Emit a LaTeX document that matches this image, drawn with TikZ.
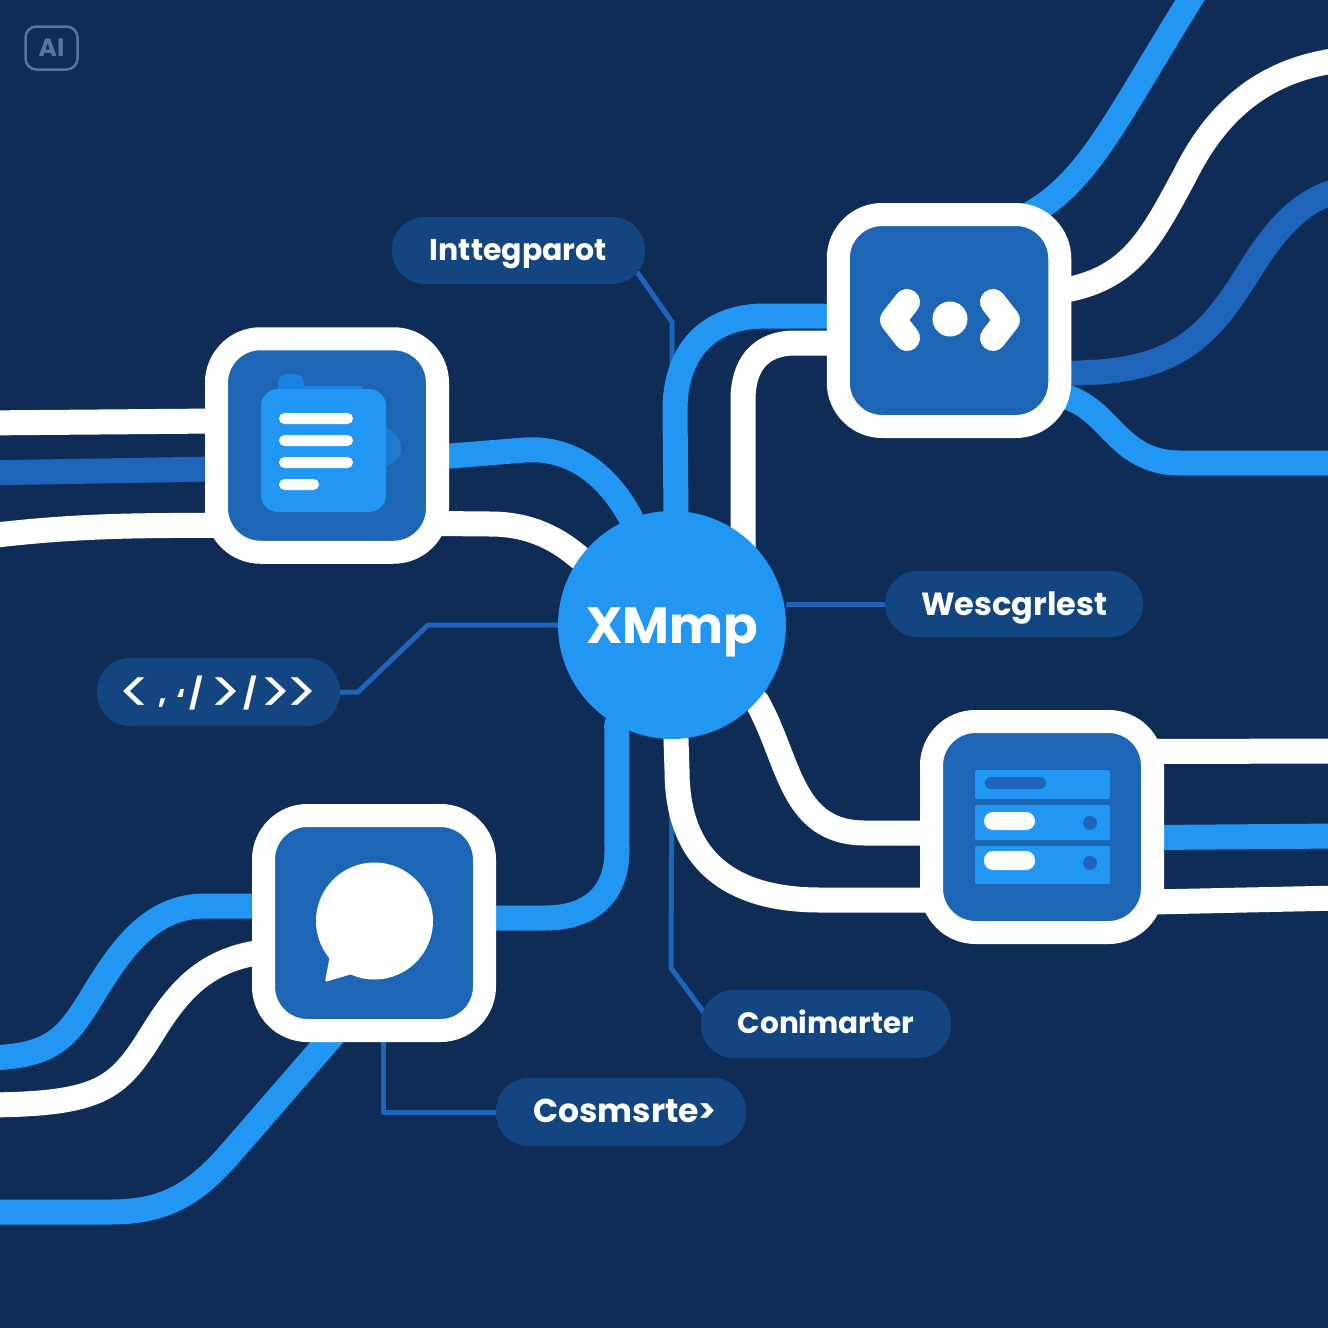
\documentclass[tikz,border=0pt]{standalone}
\usepackage{fontspec}
\setmainfont{Poppins}
\definecolor{bgnavy}{HTML}{0F2C57}
\definecolor{lightblue}{HTML}{2196F3}
\definecolor{midblue}{HTML}{1D64BA}
\definecolor{innerblue}{HTML}{1C66B5}
\definecolor{pillblue}{HTML}{134680}
\definecolor{tabblue}{HTML}{1A82E2}
\definecolor{bumpblue}{HTML}{1F79D0}
\definecolor{badge}{HTML}{55779F}
\pgfdeclarelayer{back}
\pgfsetlayers{back,main}
\newcommand{\pilltext}[3]{\fontsize{#1}{#1}\selectfont\raisebox{-#2pt}[0pt][0pt]{#3}}
\newcommand{\tagang}[1]{{\mdseries\fontsize{60}{60}\selectfont\raisebox{-5pt}{#1}}}
\newcommand{\tagsmall}[2]{{\fontsize{30}{30}\selectfont\raisebox{#1pt}{#2}}}
\tikzset{
  box/.style={rectangle,rounded corners=44pt,draw=white,line width=23pt,fill=innerblue,inner sep=0pt,outer sep=0pt},
  pill/.style={rectangle,rounded corners=33pt,fill=pillblue,inner sep=0pt,outer sep=0pt,text=white,font=\bfseries},
  whitewire/.style={draw=white,line width=25pt,line cap=round,line join=round},
  bluewire/.style={draw=lightblue,line width=25pt,line cap=round,line join=round},
  midwire/.style={draw=midblue,line width=25pt,line cap=round,line join=round},
  thin/.style={draw=midblue,line width=5pt,line join=round},
  bar/.style={fill=white,rounded corners=5.5pt},
  chev/.style={draw=white,line width=26pt,line cap=round,line join=round}
}
\begin{document}
\begin{tikzpicture}[x=1pt,y=-1pt]
\useasboundingbox (0,0) rectangle (1328,1328);
% nodes
\node[circle,fill=lightblue,minimum size=228pt,inner sep=0pt,outer sep=0pt,text=white,font=\bfseries] (hub) at (672,625) {\pilltext{51}{18}{XMmp}};
\node[box,minimum width=221pt,minimum height=213.5pt] (doc) at (327,445.5) {};
\node[box,minimum width=221.5pt,minimum height=212pt] (code) at (949,320.5) {};
\node[box,minimum width=221pt,minimum height=211pt] (server) at (1042,827) {};
\node[box,minimum width=221pt,minimum height=215pt] (chat) at (374,923) {};
\node[pill,minimum width=253pt,minimum height=67pt] (intt) at (518.5,250.5) {\pilltext{30}{10}{Inttegparot}};
\node[pill,minimum width=258pt,minimum height=66pt] (wesc) at (1014,604) {\pilltext{32}{11}{Wescgrlest}};
\node[pill,minimum width=250pt,minimum height=68pt] (coni) at (826,1024) {\pilltext{29.5}{9.5}{Conimarter}};
\node[pill,minimum width=250pt,minimum height=68pt] (cosm) at (621,1112) {\hspace{8pt}\pilltext{33}{10}{Cosmsrte>}};
\node[pill,minimum width=243pt,minimum height=68pt] (tags) at (218.5,692) {\raisebox{-16pt}[0pt][0pt]{\tagang{<}\kern6pt\tagsmall{5}{,}\kern10pt\tagsmall{-2}{\char"60}\kern3pt\tagsmall{4}{/}\kern7pt\tagang{>}\kern2pt\tagsmall{4}{/}\kern2pt\tagang{>}\kern-6pt\tagang{>}}};
\node[rectangle,rounded corners=11pt,draw=badge,line width=2.5pt,minimum width=52pt,minimum height=43pt,inner sep=0pt,text=badge,font=\bfseries\fontsize{25}{28}\selectfont] (ai) at (51.5,48) {AI};
% free ends and bends
\foreach \n/\x/\y in {fa/-20/423,fb/-20/473,fc/-20/537,fd/1195/-8,fe/1340/60,ff/1340/190,fg/1340/463,fh/1340/751,fi/1340/836,fj/1340/898,fk/-20/1058,fl/-20/1105,fm/-20/1212,ta/672/322,tb/671/968,tc/358/692,td/428/625,te/383/1112}
  \coordinate (\n) at (\x,\y);
\begin{pgfonlayer}{back}
\fill[bgnavy] (0,0) rectangle (1328,1328);
% thin leader lines
\draw[thin] ([xshift=-8pt,yshift=12pt]intt.south east) -- (ta) -- (hub.90);
\draw[thin] ([yshift=21pt]hub.east) -- (wesc.west);
\draw[thin] (tags.east) -- (tc) -- (td) -- (hub.west);
\draw[thin] (hub.-90) -- (tb) -- ([xshift=4pt,yshift=10pt]coni.west);
\draw[thin] ([xshift=9pt]chat.south) -- (te) -- (cosm.west);
% left document wires
\draw[whitewire] (fa) -- ([yshift=24.5pt]doc.west);
\draw[midwire] (fb) -- ([yshift=-23.5pt]doc.west);
\draw[whitewire] (fc) .. controls (60,527) and (120,525) .. ([yshift=-80pt]doc.west);
\draw[bluewire] ([yshift=-11.5pt]doc.east) -- (525,450) .. controls (572,447) and (608,475) .. (hub.111);
\draw[whitewire] ([yshift=-78pt]doc.east) -- (490,524) .. controls (525,524) and (553,535) .. (hub.144);
% code wires
\draw[bluewire] ([yshift=4.5pt]code.west) -- (765,316) .. controls (705,316) and (675,355) .. (675,410) -- (hub.88);
\draw[whitewire] ([yshift=-22.5pt]code.west) -- (795,343) .. controls (760,343) and (743,365) .. (743,400) -- ([xshift=2.4pt,yshift=-25pt]hub.53);
\draw[bluewire] ([xshift=80pt]code.north) .. controls (1090,180) and (1115,120) .. (fd);
\draw[whitewire] ([yshift=29.5pt]code.east) .. controls (1130,280) and (1150,240) .. (1185,175) .. controls (1215,115) and (1260,70) .. (fe);
\draw[midwire] ([yshift=-53.5pt]code.east) -- (1100,372) .. controls (1180,365) and (1210,335) .. (1250,270) .. controls (1275,230) and (1300,200) .. (ff);
\draw[bluewire] ([yshift=-75pt]code.east) .. controls (1110,405) and (1115,463) .. (1180,463) -- (fg);
% server wires
\draw[whitewire] (hub.-42) .. controls (790,760) and (790,833) .. (865,833) -- ([yshift=-6pt]server.west);
\draw[whitewire] (hub.-88) -- (677,770) .. controls (677,860) and (730,900) .. (820,900) -- ([yshift=-73pt]server.west);
\draw[whitewire] ([yshift=75.5pt]server.east) -- (fh);
\draw[bluewire] ([yshift=-10.5pt]server.east) -- (fi);
\draw[whitewire] ([yshift=-75pt]server.east) -- (fj);
% chat wires
\draw[bluewire] ([yshift=5pt]chat.east) -- (545,918) .. controls (590,918) and (617,895) .. (617,850) -- (hub.-119);
\draw[bluewire] ([yshift=17pt]chat.west) -- (205,906) .. controls (150,906) and (120,950) .. (90,1000) .. controls (65,1040) and (50,1058) .. (fk);
\draw[whitewire] ([yshift=-29pt]chat.west) .. controls (195,960) and (170,1005) .. (145,1045) .. controls (115,1090) and (95,1105) .. (fl);
\draw[bluewire] ([xshift=-37pt]chat.south) -- (235,1148) .. controls (195,1195) and (165,1212) .. (110,1212) -- (fm);
\end{pgfonlayer}
% document icon
\fill[tabblue,rounded corners=9pt] (278,374) rectangle (304,400);
\fill[tabblue] (300,386) rectangle (362,400);
\fill[bumpblue] (380,425) .. controls (398,430) and (404,445) .. (400,455) .. controls (396,463) and (388,466) .. (380,467) -- cycle;
\fill[lightblue,rounded corners=17pt] (261,389) rectangle (386,512);
\fill[bar] (279,413) rectangle (353,424);
\fill[bar] (279,435) rectangle (353,446);
\fill[bar] (279,457) rectangle (353,468);
\fill[bar] (279,479) rectangle (319,490);
% code icon
\draw[chev] (907,302) -- (893,320) -- (907,338);
\draw[chev] (993,302) -- (1007,320) -- (993,338);
\fill[white] (950,319) circle[radius=17.5];
% server icon
\fill[lightblue,rounded corners=1.5pt] (975,770) rectangle (1110,799);
\fill[lightblue,rounded corners=1.5pt] (975,805) rectangle (1110,840);
\fill[lightblue,rounded corners=1.5pt] (975,846) rectangle (1110,884);
\fill[midblue,rounded corners=6pt] (985,777) rectangle (1046,789);
\fill[white,rounded corners=9pt] (984,812) rectangle (1035,830);
\fill[white,rounded corners=9pt] (984,851) rectangle (1035,870);
\fill[midblue] (1090,823) circle[radius=7];
\fill[midblue] (1090,863) circle[radius=7];
% chat icon
\fill[white] (374.5,921) circle[radius=58.5];
\fill[white,rounded corners=1.5pt] (330,955) -- (325,982) -- (352,974) -- cycle;
\end{tikzpicture}
\end{document}
